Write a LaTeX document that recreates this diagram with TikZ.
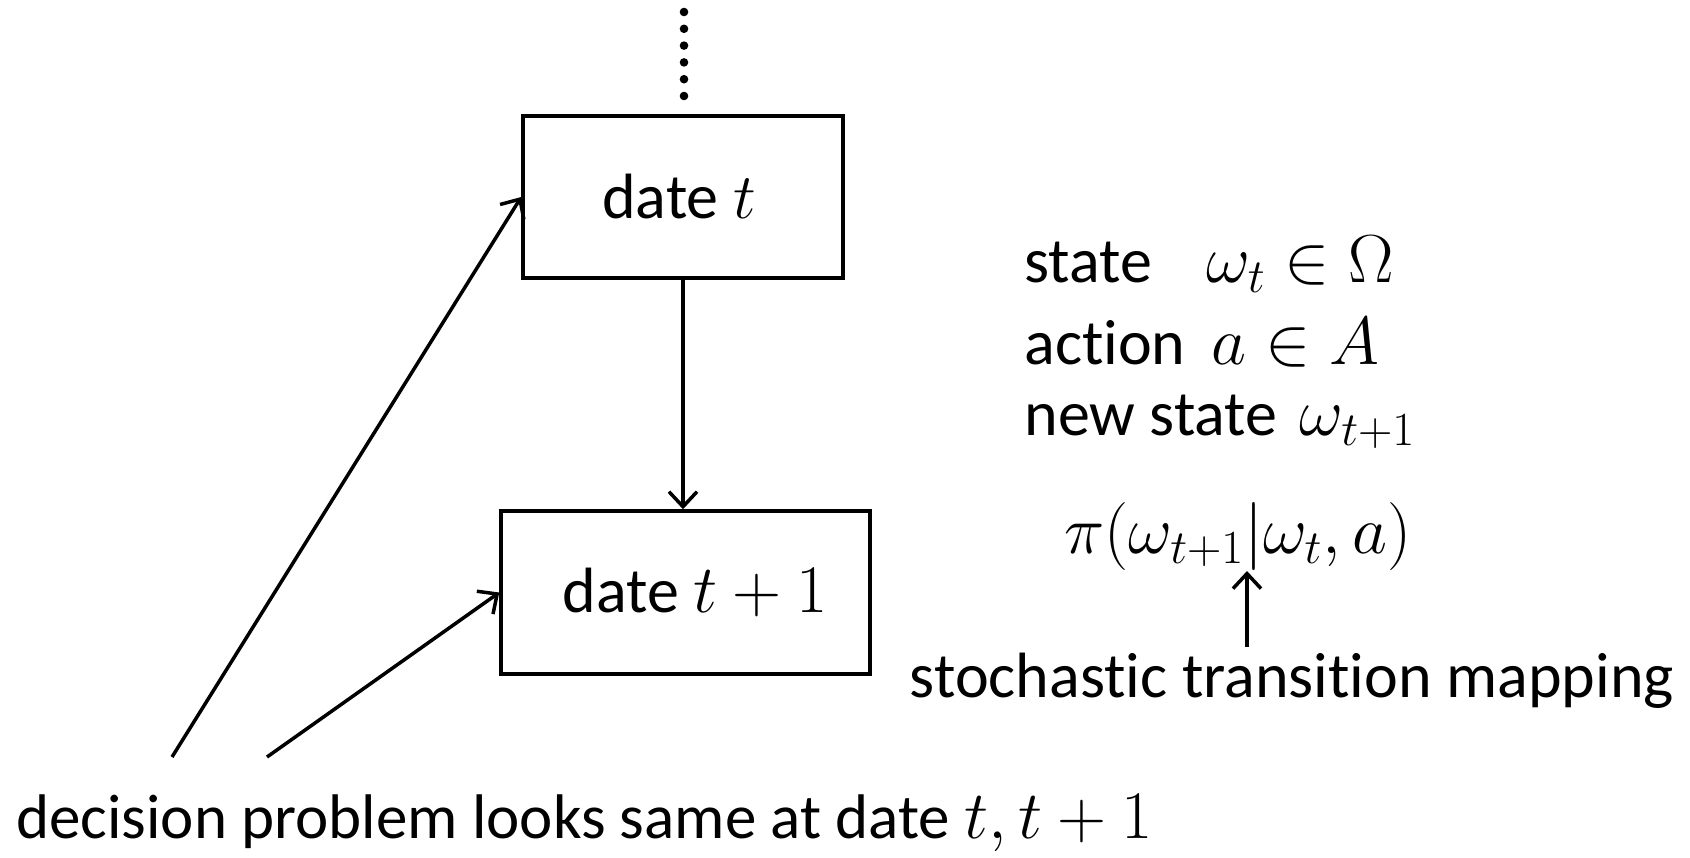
\documentclass[tikz,border=0pt]{standalone}
\usepackage{fix-cm}
\usepackage{amsmath}
\usepackage{amssymb}
\usepackage[no-math]{fontspec}
\setmainfont{Carlito}[Ligatures=NoCommon]
\usetikzlibrary{arrows.meta}
\newcommand{\bigmath}[1]{{\fontsize{34}{40}\selectfont$#1$}}

\begin{document}
\begin{tikzpicture}[x=0.5pt,y=-0.5pt,
        datebox/.style={draw,line width=1.75pt,inner sep=0pt},
        arr/.style={line width=1.75pt,-{Straight Barb[length=7.5pt,width=14pt,line width=1.75pt]}},
        txt/.style={inner sep=0pt,anchor=west,font=\fontsize{32}{38}\selectfont}]
            \useasboundingbox (0,0) rectangle (1690,857);

            \node[datebox,minimum width=160pt,minimum height=81pt] (datet) at (683,197) {};
            \node[txt,anchor=center] (datetlabel) at ([xshift=-2pt]datet.center) {date $t$};
            \node[datebox,minimum width=184.5pt,minimum height=81.5pt] (datetone) at (685.5,592.5) {};
            \node[txt,anchor=center] (datetonelabel) at ([xshift=5pt]datetone.center) {date \bigmath{t+1}};

             %dots above
            \coordinate (dotstop) at (684,12);
            \coordinate (dotsbot) at (684,96.5);
            \draw[line width=4.3pt,line cap=round,dash pattern=on 0pt off 8.4pt] (dotstop) -- (dotsbot);

            \draw[arr] (datet.south) -- (datet.south |- datetone.north);

             %same problem
            \coordinate (longfoot) at (172,757);
            \coordinate (shortfoot) at (267,757);
            \draw[arr] (longfoot) -- (datet.west);
            \draw[arr] (shortfoot) -- (datetone.west);
            \node[txt,font=\fontsize{31.5}{38}\selectfont] (same) at (16,823) {decision problem looks same at date \bigmath{t,t+1}};

             %model
            \node[txt] (state) at (1024,264) {state\hspace{0.85em}\bigmath{\omega_t\in\Omega}};
            \node[txt] (action) at (1024,343) {action\hspace{0.4em}\bigmath{a\in A}};
            \node[txt] (newstate) at (1024,422) {new state\hspace{0.35em}\bigmath{\omega_{t+1}}};
            \node[txt,anchor=center] (trans) at (1238,536) {\bigmath{\pi(\omega_{t+1}|\omega_t,a)}};
            \node[txt,anchor=center,inner sep=3pt] (stoch) at (1292,681) {stochastic transition mapping};
            \coordinate (subone) at (1247,571);
            \draw[arr] (stoch.north -| subone) -- (subone);
\end{tikzpicture}
\end{document}
